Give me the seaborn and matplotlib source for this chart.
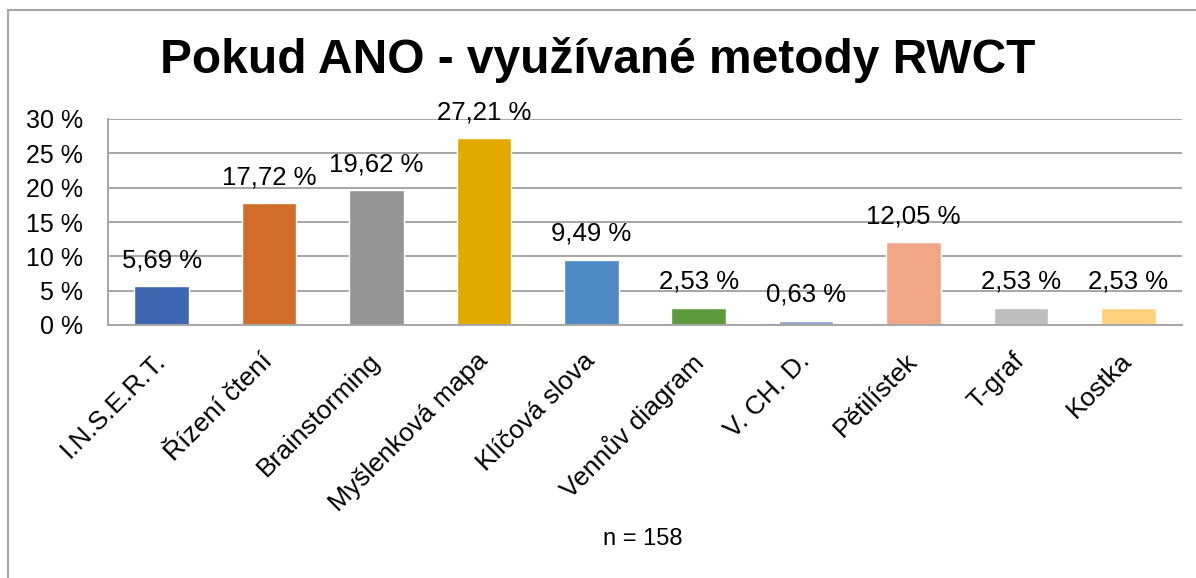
import matplotlib
matplotlib.use("Agg")
import matplotlib.pyplot as plt
import matplotlib.patches as mpatches
import matplotlib.transforms as mtransforms
import seaborn as sns
import pandas as pd

sns.set_theme(style="white")
plt.rcParams['font.family'] = ['Liberation Sans', 'DejaVu Sans']
plt.rcParams['text.color'] = 'black'
plt.rcParams['xtick.color'] = 'black'
plt.rcParams['ytick.color'] = 'black'

categories = ["I.N.S.E.R.T.", "Řízení čtení", "Brainstorming", "Myšlenková mapa",
              "Klíčová slova", "Vennův diagram", "V. CH. D.", "Pětilístek",
              "T-graf", "Kostka"]
values = [5.69, 17.72, 19.62, 27.21, 9.49, 2.53, 0.63, 12.05, 2.53, 2.53]
colors = ["#3F67B1", "#D36C2B", "#959595", "#E2A902", "#4E8BC4",
          "#5C9A3D", "#8EA4D5", "#F1A786", "#BEBEBE", "#FFD17E"]
yticks = [0, 5, 10, 15, 20, 25, 30]
title = "Pokud ANO - využívané metody RWCT"
note = "n = 158"

df = pd.DataFrame({"metoda": categories, "podil": values})

fig = plt.figure(figsize=(11.96, 5.78), dpi=100)
ax = fig.add_axes([108 / 1196, 1 - 325 / 578, 1074 / 1196, 206 / 578])

sns.barplot(data=df, x="metoda", y="podil", hue="metoda", palette=colors,
            width=0.51, legend=False, ax=ax, saturation=1)

ax.set_ylim(0, 30)
ax.set_xlim(-0.5, len(categories) - 0.5)
ax.set_yticks(yticks)
ax.set_yticklabels([f"{t} %" for t in yticks], fontsize=18)
ax.yaxis.grid(True, color="#A6A6A6", linewidth=1.4)
ax.set_axisbelow(True)
ax.set_xlabel("")
ax.set_ylabel("")

for s in ["top", "right"]:
    ax.spines[s].set_visible(False)
for s in ["left", "bottom"]:
    ax.spines[s].set_color("#A6A6A6")
    ax.spines[s].set_linewidth(1.4)

ax.tick_params(axis="y", length=6, color="#A6A6A6", width=1.4, pad=12)
# category ticks sit on the boundaries between bars
ax.set_xticks([i - 0.5 for i in range(len(categories) + 1)], minor=False)
ax.set_xticklabels([])
ax.tick_params(axis="x", length=6, color="#A6A6A6", width=1.4)
ax.set_xticks(range(len(categories)), minor=True)
ax.set_xticklabels(categories, minor=True, rotation=45, ha="right",
                   rotation_mode="anchor", fontsize=19)
ax.tick_params(axis="x", which="minor", length=0, pad=17)
shift = mtransforms.ScaledTranslation(-6 / 72, 0, fig.dpi_scale_trans)
for lbl in ax.get_xticklabels(minor=True):
    lbl.set_transform(lbl.get_transform() + shift)

for i, v in enumerate(values):
    ax.annotate(f"{v:.2f} %".replace(".", ","), (i, v), xytext=(0, 10),
                textcoords="offset points", ha="center", va="bottom",
                fontsize=18.5)

fig.text(0.5, 1 - 60 / 578, title, ha="center", va="center",
         fontsize=34.5, fontweight="bold")
fig.text(643 / 1196, 1 - 539 / 578, note, ha="center", va="center", fontsize=17)

fig.patches.append(mpatches.Rectangle((8 / 1196, -0.1), 1.2, 1 - 10 / 578 + 0.1,
                                      transform=fig.transFigure, fill=False,
                                      edgecolor="#A6A6A6", linewidth=1.5))

fig.savefig("out.png", dpi=100)
